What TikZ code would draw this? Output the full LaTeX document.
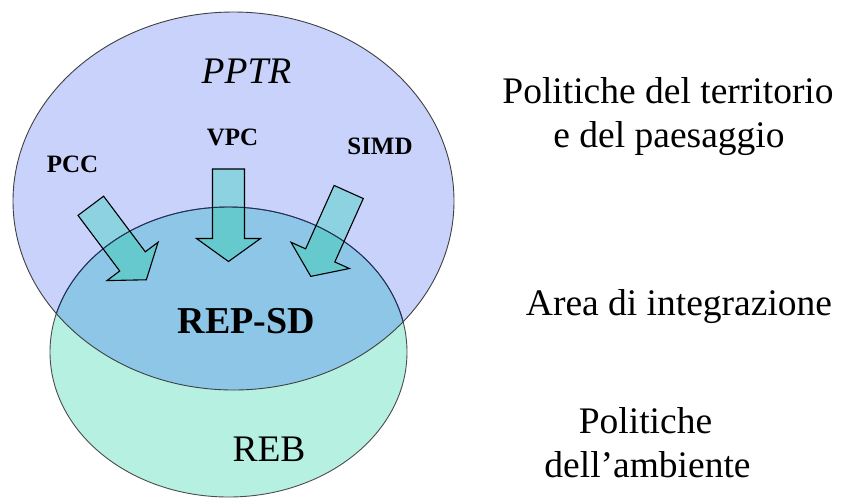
\documentclass[tikz,border=0pt]{standalone}
\usepackage{fontspec}
\setmainfont{Liberation Serif}
\definecolor{topc}{HTML}{C8D2FB}
\definecolor{botc}{HTML}{B5F0E0}
\definecolor{ovc}{HTML}{8EC6E8}
\definecolor{arrA}{HTML}{8CD2E0}
\definecolor{arrB}{HTML}{66C9CE}
\definecolor{navyline}{HTML}{1F2F5F}
\tikzset{
  big/.style={font=\fontsize{37.5}{44}\selectfont, inner sep=0pt, anchor=base},
  small/.style={font=\fontsize{25}{30}\selectfont\bfseries, inner sep=0pt, anchor=base},
  blockarr/.pic={\path[pic actions] (0,-16) -- (69.5,-16) -- (69.5,-32) -- (92.5,0) -- (69.5,32) -- (69.5,16) -- (0,16) -- cycle;},
}
\begin{document}
\begin{tikzpicture}[x=1pt,y=-1pt]
\useasboundingbox (0,0) rectangle (848,499);
\def\topell{(233.5,201) ellipse [x radius=220.5, y radius=189]}
\def\botell{(228.5,352) ellipse [x radius=178.5, y radius=145]}
% fills
\fill[botc] \botell;
\fill[topc] \topell;
\begin{scope}
  \clip \botell;
  \fill[ovc] \topell;
\end{scope}
% arrow fills
\pic[fill=arrA,rotate=-53.1] at (90.8,205.8) {blockarr};
\pic[fill=arrA,rotate=-90] at (228.5,169) {blockarr};
\pic[fill=arrA,rotate=-114.2] at (348.7,192) {blockarr};
\begin{scope}
  \clip \botell;
  \pic[fill=arrB,rotate=-53.1] at (90.8,205.8) {blockarr};
  \pic[fill=arrB,rotate=-90] at (228.5,169) {blockarr};
  \pic[fill=arrB,rotate=-114.2] at (348.7,192) {blockarr};
\end{scope}
% ellipse outlines
\draw[black!70, line width=0.9pt] \botell;
\begin{scope}
  \clip \topell;
  \draw[navyline, line width=0.9pt] \botell;
\end{scope}
\draw[black!75, line width=0.9pt] \topell;
% arrow outlines
\pic[draw=black,line width=1.1pt,line join=miter,rotate=-53.1] at (90.8,205.8) {blockarr};
\pic[draw=black,line width=1.1pt,line join=miter,rotate=-90] at (228.5,169) {blockarr};
\pic[draw=black,line width=1.1pt,line join=miter,rotate=-114.2] at (348.7,192) {blockarr};
% texts
\node[big, font=\fontsize{37.5}{44}\selectfont\itshape] (pptr) at (246.5,83) {PPTR};
\node[small] (vpc) at (232.5,145) {VPC};
\node[small] (pcc) at (72.5,172.7) {PCC};
\node[small] (simd) at (380,154) {SIMD};
\node[big, font=\fontsize{38}{44}\selectfont\bfseries] (repsd) at (246.5,333.3) {REP-SD};
\node[big] (reb) at (269,461.7) {REB};
\node[big] (terr1) at (668,103) {Politiche del territorio};
\node[big] (terr2) at (669,147) {e del paesaggio};
\node[big] (area) at (679,315) {Area di integrazione};
\node[big] (amb1) at (645.5,433) {Politiche};
\node[big] (amb2) at (647.5,477) {dell’ambiente};
\end{tikzpicture}
\end{document}
